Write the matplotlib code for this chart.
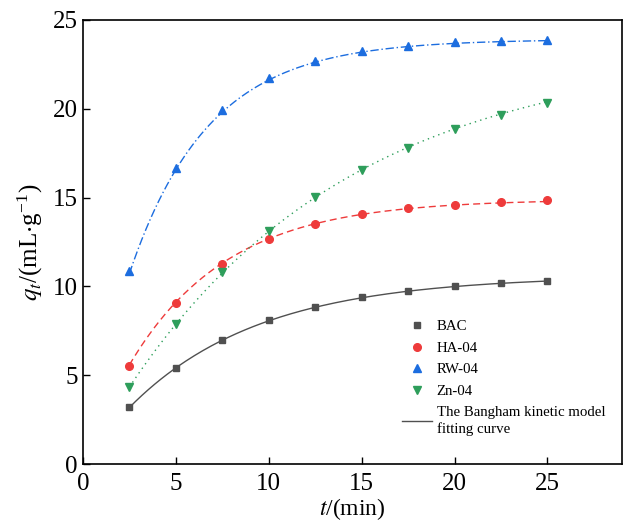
import numpy as np
import matplotlib
matplotlib.use("Agg")
import matplotlib.pyplot as plt
from matplotlib.lines import Line2D

plt.rcParams["font.family"] = ["Liberation Serif", "DejaVu Serif"]
plt.rcParams["mathtext.fontset"] = "stix"

# Sampling times (min)
t = [2.5, 5, 7.5, 10, 12.5, 15, 17.5, 20, 22.5, 25]

# Measured uptake q_t (mL/g)
bac = [3.2, 5.4, 7.0, 8.1, 8.85, 9.4, 9.75, 10.0, 10.2, 10.3]
ha04 = [5.55, 9.05, 11.25, 12.65, 13.5, 14.05, 14.4, 14.6, 14.75, 14.85]
rw04 = [10.85, 16.65, 19.9, 21.7, 22.7, 23.25, 23.55, 23.75, 23.8, 23.85]
zn04 = [4.35, 7.9, 10.8, 13.1, 15.05, 16.55, 17.8, 18.85, 19.65, 20.3]

# Bangham model parameters: q = qe * (1 - exp(-k t^z))
qe = [10.6, 14.9, 23.9, 23.4]
k = [0.143, 0.186, 0.24, 0.082]
z = [1.0, 1.01, 0.99, 1.0]

names = ["BAC", "HA-04", "RW-04", "Zn-04"]
colors = ["#505050", "#ee3b3b", "#1c6ddf", "#2e9e5b"]
markers = ["s", "o", "^", "v"]
sizes = [5, 5.5, 6, 6]
styles = ["-", (0, (5, 3)), (0, (6, 2, 1, 2)), (0, (1, 3))]

fig = plt.figure(figsize=(6.23, 5.21), dpi=100)
ax = fig.add_axes([0.133, 0.109, 0.865, 0.853])

tt = np.linspace(2.5, 25, 200)
handles = []
for i, q in enumerate([bac, ha04, rw04, zn04]):
    fit = qe[i] * (1 - np.exp(-k[i] * tt ** z[i]))
    ax.plot(tt, fit, color=colors[i], linestyle=styles[i], linewidth=1)
    ax.plot(t, q, linestyle="none", marker=markers[i], color=colors[i],
            markersize=sizes[i])
    handles.append(Line2D([], [], linestyle="none", marker=markers[i],
                          color=colors[i], markersize=sizes[i], label=names[i]))
handles.append(Line2D([], [], color="#505050", linewidth=1,
                      label="The Bangham kinetic model\nfitting curve"))

ax.set_xlim(0, 29)
ax.set_ylim(0, 25)
ax.set_xticks([0, 5, 10, 15, 20, 25])
ax.set_yticks([0, 5, 10, 15, 20, 25])
ax.tick_params(direction="in", length=5, width=1, labelsize=18)
ax.tick_params(axis="x", pad=6)
for s in ax.spines.values():
    s.set_linewidth(1.2)
ax.set_xlabel("$t$/(min)", fontsize=17, labelpad=1)
ax.set_ylabel(r"$q_t$/(mL$\cdot$g$^{\mathregular{-1}}$)", fontsize=18, labelpad=6)

leg = ax.legend(handles=handles, loc="upper left", bbox_to_anchor=(0.567, 0.355),
                frameon=False, fontsize=10.7, handlelength=2.0, labelspacing=0.55,
                handletextpad=0.35)
for txt in leg.get_texts():
    txt.set_linespacing(1.25)

fig.savefig("out.png", dpi=100)
